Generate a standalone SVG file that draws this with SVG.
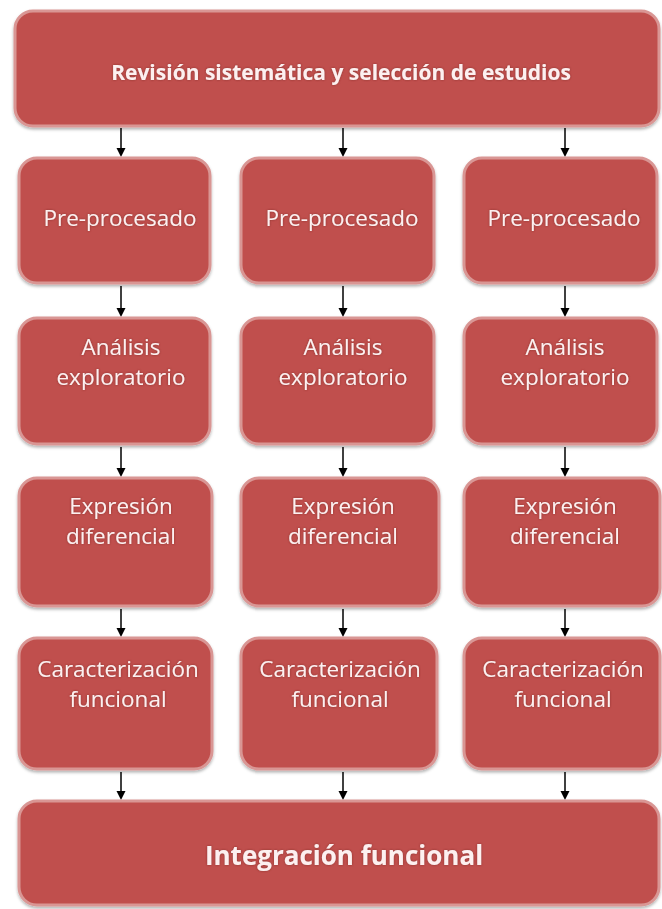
<svg xmlns="http://www.w3.org/2000/svg" width="662" height="909" viewBox="0 0 662 909">
<defs>
<filter id="sh" x="-10%" y="-10%" width="120%" height="130%">
<feDropShadow dx="0" dy="2" stdDeviation="1.5" flood-color="#000" flood-opacity="0.3"/>
</filter>
<filter id="tg" x="-5%" y="-20%" width="110%" height="140%">
<feDropShadow dx="0" dy="0" stdDeviation="0.8" flood-color="#7a2a28" flood-opacity="0.8"/>
</filter>
</defs>
<style>
.box{fill:#C0504D;stroke:#D99694;stroke-width:3;filter:url(#sh)}
.t{font-family:"Open Sans","Noto Sans","Liberation Sans",sans-serif;font-size:22.5px;fill:#FDF0F0;text-anchor:middle;filter:url(#tg)}
.top{font-weight:bold;font-size:21px}
.bot{font-weight:bold;font-size:26px}
.c{stroke:#000;stroke-width:1.5;fill:none}
.a{fill:#000}
</style>
<rect width="662" height="909" fill="#fff"/>
<g id="connectors">
<path class="c" d="M121,128 V152"/><path class="a" d="M116.5,148 H125.5 L121,157 Z"/>
<path class="c" d="M343,128 V152"/><path class="a" d="M338.5,148 H347.5 L343,157 Z"/>
<path class="c" d="M565,128 V152"/><path class="a" d="M560.5,148 H569.5 L565,157 Z"/>
<path class="c" d="M121,286 V312"/><path class="a" d="M116.5,308 H125.5 L121,317 Z"/>
<path class="c" d="M343,286 V312"/><path class="a" d="M338.5,308 H347.5 L343,317 Z"/>
<path class="c" d="M565,286 V312"/><path class="a" d="M560.5,308 H569.5 L565,317 Z"/>
<path class="c" d="M121,447 V472"/><path class="a" d="M116.5,468 H125.5 L121,477 Z"/>
<path class="c" d="M343,447 V472"/><path class="a" d="M338.5,468 H347.5 L343,477 Z"/>
<path class="c" d="M565,447 V472"/><path class="a" d="M560.5,468 H569.5 L565,477 Z"/>
<path class="c" d="M121,609 V632"/><path class="a" d="M116.5,628 H125.5 L121,637 Z"/>
<path class="c" d="M343,609 V632"/><path class="a" d="M338.5,628 H347.5 L343,637 Z"/>
<path class="c" d="M565,609 V632"/><path class="a" d="M560.5,628 H569.5 L565,637 Z"/>
<path class="c" d="M121,772 V795"/><path class="a" d="M116.5,791 H125.5 L121,800 Z"/>
<path class="c" d="M343,772 V795"/><path class="a" d="M338.5,791 H347.5 L343,800 Z"/>
<path class="c" d="M565,772 V795"/><path class="a" d="M560.5,791 H569.5 L565,800 Z"/>
</g>
<g id="top"><rect class="box" x="15" y="11" width="644" height="115" rx="18"/>
<text class="t top" x="341" y="80">Revisión sistemática y selección de estudios</text></g>
<g id="pre1"><rect class="box" x="19" y="158" width="191" height="125" rx="18"/><text class="t" x="120" y="226">Pre-procesado</text></g>
<g id="pre2"><rect class="box" x="241" y="158" width="193" height="125" rx="18"/><text class="t" x="342" y="226">Pre-procesado</text></g>
<g id="pre3"><rect class="box" x="464" y="158" width="193" height="125" rx="18"/><text class="t" x="564" y="226">Pre-procesado</text></g>
<g id="ana1"><rect class="box" x="19" y="318" width="191" height="126" rx="18"/><text class="t" x="121" y="355">Análisis</text><text class="t" x="121" y="385">exploratorio</text></g>
<g id="ana2"><rect class="box" x="241" y="318" width="193" height="126" rx="18"/><text class="t" x="343" y="355">Análisis</text><text class="t" x="343" y="385">exploratorio</text></g>
<g id="ana3"><rect class="box" x="464" y="318" width="193" height="126" rx="18"/><text class="t" x="565" y="355">Análisis</text><text class="t" x="565" y="385">exploratorio</text></g>
<g id="exp1"><rect class="box" x="19" y="478" width="193" height="128" rx="18"/><text class="t" x="121" y="514">Expresión</text><text class="t" x="121" y="544">diferencial</text></g>
<g id="exp2"><rect class="box" x="241" y="478" width="198" height="128" rx="18"/><text class="t" x="343" y="514">Expresión</text><text class="t" x="343" y="544">diferencial</text></g>
<g id="exp3"><rect class="box" x="464" y="478" width="196" height="128" rx="18"/><text class="t" x="565" y="514">Expresión</text><text class="t" x="565" y="544">diferencial</text></g>
<g id="car1"><rect class="box" x="19" y="638" width="193" height="131" rx="18"/><text class="t" x="118" y="677">Caracterización</text><text class="t" x="118" y="707">funcional</text></g>
<g id="car2"><rect class="box" x="241" y="638" width="196" height="131" rx="18"/><text class="t" x="340" y="677">Caracterización</text><text class="t" x="340" y="707">funcional</text></g>
<g id="car3"><rect class="box" x="464" y="638" width="196" height="131" rx="18"/><text class="t" x="563" y="677">Caracterización</text><text class="t" x="563" y="707">funcional</text></g>
<g id="int"><rect class="box" x="19" y="801" width="640" height="104" rx="18"/>
<text class="t bot" x="344" y="865">Integración funcional</text></g>
</svg>
